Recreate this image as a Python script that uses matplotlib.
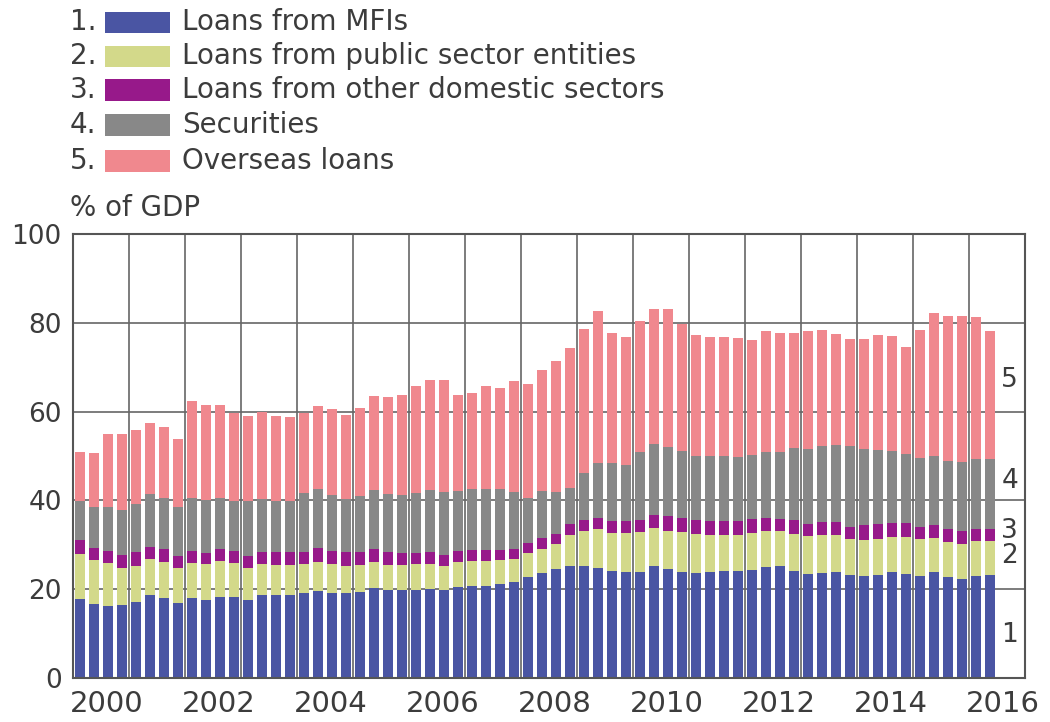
import numpy as np
import matplotlib.pyplot as plt
from matplotlib.patches import Rectangle

# quarterly data, 2000Q1 .. 2016Q2, % of GDP
quarters = [f"{y}Q{q}" for y in range(2000, 2017) for q in range(1, 5)][:66]

mfi = [17.8, 16.7, 16.3, 16.4, 17.1, 18.6, 18.0, 16.8,
       18.0, 17.6, 18.3, 18.2, 17.6, 18.6, 18.6, 18.6,
       19.1, 19.5, 19.2, 19.2, 19.3, 20.3, 19.7, 19.7,
       19.8, 20.1, 19.8, 20.5, 20.8, 20.8, 21.1, 21.6,
       22.7, 23.6, 24.5, 25.3, 25.3, 24.8, 24.2, 23.9,
       23.8, 25.2, 24.6, 23.8, 23.6, 23.8, 24.1, 24.2,
       24.4, 25.0, 25.2, 24.1, 23.5, 23.6, 23.8, 23.2,
       22.9, 23.2, 23.8, 23.5, 23.0, 23.8, 22.7, 22.3,
       23.0, 23.2]
public = [10.2, 9.8, 9.6, 8.4, 8.2, 8.2, 8.2, 8.0,
          8.0, 8.0, 8.0, 7.7, 7.2, 7.0, 6.8, 6.8,
          6.6, 6.6, 6.5, 6.1, 6.2, 5.9, 5.8, 5.8,
          5.9, 5.6, 5.5, 5.6, 5.5, 5.5, 5.4, 5.2,
          5.4, 5.5, 5.7, 7.0, 7.8, 8.8, 8.5, 8.8,
          9.1, 8.6, 8.6, 9.1, 8.9, 8.5, 8.2, 8.1,
          8.3, 8.1, 7.9, 8.4, 8.4, 8.5, 8.3, 8.2,
          8.1, 8.2, 7.9, 8.2, 8.2, 7.8, 7.9, 7.9,
          7.8, 7.6]
other = [3.0, 2.7, 2.8, 3.0, 3.0, 2.7, 2.8, 2.6,
         2.7, 2.6, 2.7, 2.8, 2.7, 2.8, 2.9, 2.9,
         2.6, 3.1, 3.0, 3.0, 2.8, 2.9, 2.8, 2.6,
         2.4, 2.6, 2.5, 2.5, 2.6, 2.6, 2.4, 2.3,
         2.3, 2.5, 2.3, 2.4, 2.5, 2.5, 2.6, 2.6,
         2.6, 3.0, 3.2, 3.2, 3.0, 3.0, 3.0, 3.0,
         3.0, 2.9, 2.8, 3.0, 2.8, 3.1, 3.1, 2.7,
         3.4, 3.3, 3.3, 3.2, 2.8, 2.8, 2.9, 2.9,
         2.8, 2.8]
securities = [8.9, 9.4, 9.8, 10.1, 10.8, 12.0, 11.6, 11.2,
              11.9, 11.8, 11.6, 11.1, 12.3, 11.9, 11.5, 11.5,
              13.4, 13.3, 12.6, 12.1, 12.6, 13.2, 13.1, 13.2,
              13.6, 14.1, 14.0, 13.5, 13.7, 13.7, 13.7, 12.8,
              10.2, 10.5, 9.4, 8.0, 10.6, 12.3, 13.0, 12.6,
              15.4, 15.8, 15.6, 15.0, 14.4, 14.6, 14.6, 14.5,
              14.5, 15.0, 15.1, 16.4, 16.9, 17.0, 17.3, 18.2,
              17.2, 16.6, 16.1, 15.6, 15.5, 15.6, 15.4, 15.5,
              15.6, 15.6]
overseas = [11.0, 12.1, 16.4, 17.0, 16.8, 15.9, 15.9, 15.3,
            21.7, 21.4, 20.8, 19.9, 19.1, 19.5, 19.1, 19.0,
            18.0, 18.7, 19.2, 18.9, 19.9, 21.2, 21.8, 22.4,
            24.0, 24.7, 25.3, 21.6, 21.6, 23.1, 22.8, 24.9,
            25.7, 27.2, 29.5, 31.5, 32.3, 34.2, 29.3, 28.8,
            29.5, 30.6, 31.2, 28.7, 27.3, 26.9, 26.8, 26.7,
            26.0, 27.1, 26.6, 25.7, 26.6, 26.1, 24.9, 24.0,
            24.8, 25.9, 26.0, 24.1, 28.8, 32.3, 32.7, 32.9,
            32.0, 28.9]

labels = ['Loans from MFIs', 'Loans from public sector entities',
          'Loans from other domestic sectors', 'Securities', 'Overseas loans']
colors = ['#4a55a3', '#d3d98a', '#97198a', '#888888', '#f0888e']
series = [mfi, public, other, securities, overseas]

txt = '#3c3c3c'
grid_c = '#666666'

# x position of each bar: middle of its quarter
xpos = np.array([int(q[:4]) + (int(q[-1]) - 0.5) / 4 for q in quarters])

fig = plt.figure(figsize=(10.5, 7.22), dpi=100)
ax = fig.add_axes([0.0695, 0.061, 0.907, 0.615])

bottom = np.zeros(len(xpos))
for vals, c in zip(series, colors):
    vals = np.array(vals)
    ax.bar(xpos, vals, width=0.175, bottom=bottom, color=c, linewidth=0, zorder=2)
    bottom += vals

ax.set_xlim(2000, 2017)
ax.set_ylim(0, 100)
ax.set_yticks([0, 20, 40, 60, 80, 100])
ax.set_xticks(range(2000, 2017))
ax.set_xticklabels([])
ax.set_xticks([y + 0.6 for y in range(2000, 2017, 2)], minor=True)
ax.set_xticklabels([str(y) for y in range(2000, 2017, 2)], minor=True)
ax.tick_params(axis='x', which='both', length=0, pad=9, labelsize=21, colors=txt)
ax.tick_params(axis='y', length=0, pad=8, labelsize=19, colors=txt)
ax.grid(True, which='major', color=grid_c, linewidth=1.2)
ax.set_axisbelow(True)
for s in ax.spines.values():
    s.set_color('#555555')
    s.set_linewidth(1.5)

# series numbers on the right
num_y = [9.7, 27.5, 33.0, 44.3, 67.2]
for i, yv in enumerate(num_y):
    ax.text(2016.72, yv, str(i + 1), fontsize=19, color=txt, ha='center', va='center')

# legend drawn by hand at the top
row_y = [22.5, 56.5, 90.0, 125.0, 161.0]
for i, (lab, c) in enumerate(zip(labels, colors)):
    yf = 1 - row_y[i] / 722
    fig.text(70 / 1050, yf, f"{i + 1}.", fontsize=20, color=txt, va='center')
    fig.add_artist(Rectangle((105 / 1050, yf - 10.8 / 722), 65 / 1050, 21.6 / 722,
                             transform=fig.transFigure, color=c, linewidth=0))
    fig.text(182 / 1050, yf, lab, fontsize=20, color=txt, va='center')

fig.text(70 / 1050, 1 - 208 / 722, '% of GDP', fontsize=20, color=txt, va='center')

fig.savefig('out.png', dpi=100)
